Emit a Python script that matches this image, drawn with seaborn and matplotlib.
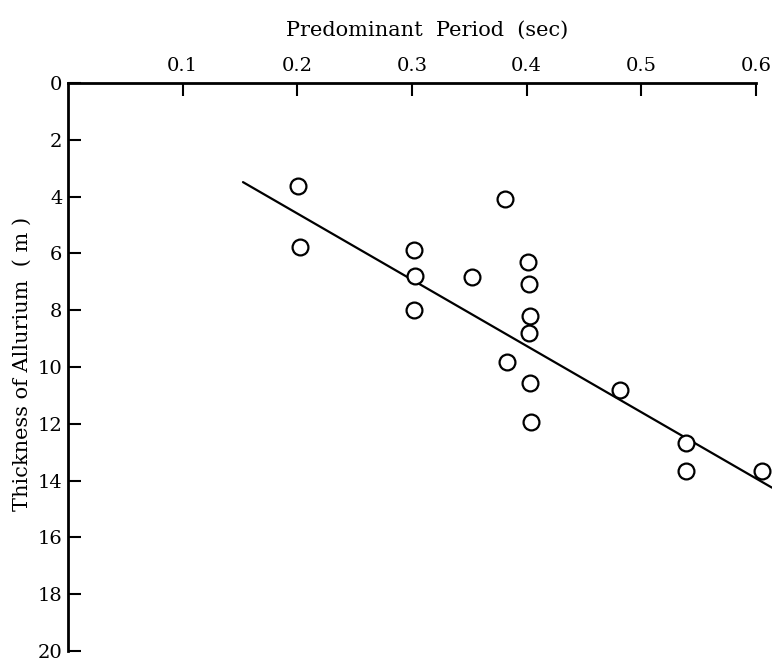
import matplotlib
matplotlib.use("Agg")
import matplotlib.pyplot as plt
import seaborn as sns
import pandas as pd

# 데이터
period = [0.201, 0.202, 0.302, 0.3025, 0.302, 0.352, 0.3815, 0.3825, 0.4008,
          0.402, 0.4028, 0.402, 0.403, 0.4034, 0.4818, 0.539, 0.539, 0.605]
thickness = [3.63, 5.77, 5.88, 6.80, 7.99, 6.84, 4.08, 9.81, 6.29,
             7.08, 8.19, 8.79, 10.55, 11.92, 10.81, 12.69, 13.65, 13.66]
fit_period = [0.1526, 0.614]
fit_thickness = [3.49, 14.25]
x_ticks = [0.1, 0.2, 0.3, 0.4, 0.5, 0.6]
y_ticks = [0, 2, 4, 6, 8, 10, 12, 14, 16, 18, 20]

sns.set_style("ticks")
plt.rcParams['font.family'] = ['DejaVu Serif']

df = pd.DataFrame({'period': period, 'thickness': thickness})
fit_df = pd.DataFrame({'period': fit_period, 'thickness': fit_thickness})

fig = plt.figure(figsize=(7.72, 6.62), dpi=100)
ax = fig.add_axes([68 / 772, 1 - 651 / 662, 688 / 772, 568 / 662])

sns.lineplot(data=fit_df, x='period', y='thickness', color='black', linewidth=1.6, ax=ax)
sns.scatterplot(data=df, x='period', y='thickness', s=130, facecolor='white',
                edgecolor='black', linewidth=1.6, ax=ax, zorder=3)
for art in ax.lines + ax.collections:
    art.set_clip_on(False)

ax.set_xlim(0, 0.6)
ax.set_ylim(20, 0)
ax.xaxis.tick_top()
ax.xaxis.set_label_position('top')
ax.set_xticks(x_ticks)
ax.set_xticklabels([f"{v:.1f}" for v in x_ticks])
ax.set_yticks(y_ticks)
ax.tick_params(axis='both', direction='in', length=9, width=1.5, labelsize=14, colors='black')
ax.tick_params(axis='x', pad=6)
ax.tick_params(axis='y', pad=4)

for side in ['bottom', 'right']:
    ax.spines[side].set_visible(False)
for side in ['top', 'left']:
    ax.spines[side].set_linewidth(2)
    ax.spines[side].set_color('black')

ax.set_xlabel('Predominant  Period  (sec)', fontsize=15, color='black')
ax.xaxis.set_label_coords((427 - 68) / 688, 1 + (83 - 36) / 568)
ax.set_ylabel('Thickness of Allurium  ( m )', fontsize=15, color='black')
ax.yaxis.set_label_coords(-(68 - 32) / 688, 0.505)

fig.savefig("out.png", dpi=100)
